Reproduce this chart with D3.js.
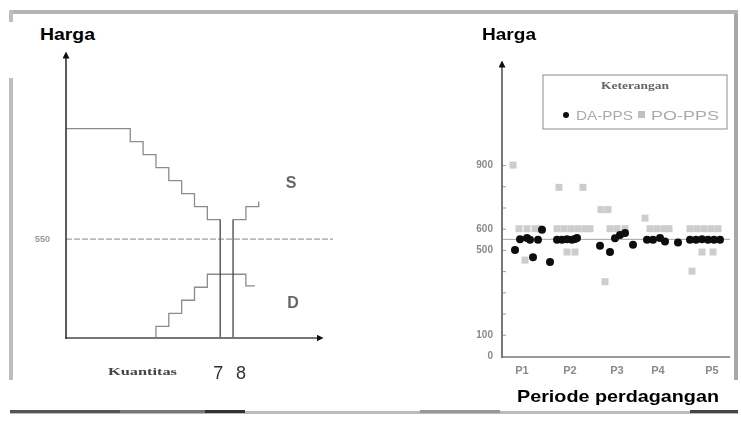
<!DOCTYPE html>
<html>
<head>
<meta charset="utf-8">
<script src="https://cdn.jsdelivr.net/npm/d3@7"></script>
<style>
  body { margin: 0; background: #fff; }
  svg { display: block; font-family: "Liberation Sans", Arial, sans-serif; }
</style>
</head>
<body>
<div id="chart"></div>
<script>
const width = 741;
const height = 421;

// left panel: schematic supply / demand steps (quantity, price)
const supplySteps = [[-5, 635], [0, 635], [0, 625], [1, 625], [1, 615], [2, 615], [2, 605], [3, 605],
  [3, 595], [4, 595], [4, 585], [5, 585], [5, 575], [6, 575], [6, 565], [7, 565]];
const supplyTail = [[8, 565], [9, 565], [9, 575], [10, 575], [10, 579]];
const demandSteps = [[2, 474], [2, 483], [3, 483], [3, 493], [4, 493], [4, 503], [5, 503], [5, 513],
  [6, 513], [6, 523], [9, 523], [9, 514], [9.7, 514]];
const tradedQty = [7, 8];
const refPrice = 550;

// right panel: prices per transaction, two treatments
const periods = ["P1", "P2", "P3", "P4", "P5"];
const periodCenters = [4, 13.6, 23, 31.2, 42];
const yTicks = [0, 100, 500, 600, 900];
const daPps = [
  [2.6, 500], [3.6, 550], [5, 556], [5.6, 548], [6.2, 466], [7.2, 548], [8, 595], [9.6, 443],
  [11, 548], [12, 548], [13, 550], [14, 548], [14.6, 552], [15, 556],
  [19.6, 520], [21.6, 490], [22.6, 555], [23.6, 570], [24.6, 580], [26.2, 525],
  [29, 548], [30.2, 548], [31.6, 556], [32.6, 540], [35.2, 535],
  [37.6, 548], [38.8, 548], [40, 550], [41.2, 548], [42.4, 548], [43.6, 548]
];
const poPps = [
  [2.2, 900], [3.4, 600], [5, 600], [6.6, 600], [7.6, 600], [4.6, 452],
  [11.4, 795], [16.2, 795], [11, 600], [12.4, 600], [13.8, 600], [15.2, 600], [16.6, 600], [17.6, 600],
  [13, 490], [14.6, 490],
  [19.8, 690], [21.2, 690], [20.6, 350], [21.6, 600], [23, 600], [24.6, 600],
  [28.6, 650], [29.6, 600], [31, 600], [32.4, 600], [33.4, 600],
  [37.6, 600], [39, 600], [40.4, 600], [41.8, 600], [43.2, 600], [40, 490], [42.2, 490], [38, 400]
];

const svg = d3.select("#chart")
  .append("svg")
  .attr("width", width)
  .attr("height", height);

const defs = svg.append("defs");
defs.append("filter").attr("id", "blur")
  .append("feGaussianBlur").attr("stdDeviation", 0.7);
defs.append("marker")
  .attr("id", "arrow")
  .attr("viewBox", "0 0 10 10")
  .attr("refX", 5).attr("refY", 5)
  .attr("markerWidth", 7).attr("markerHeight", 7)
  .attr("orient", "auto-start-reverse")
  .attr("markerUnits", "userSpaceOnUse")
  .append("path")
  .attr("d", "M0,0L10,5L0,10z")
  .attr("fill", "#111");

// scanned frame
const frame = svg.append("g").attr("filter", "url(#blur)");
frame.append("rect").attr("x", 10).attr("y", 10).attr("width", 728).attr("height", 4).attr("fill", "#b4b4b4");
frame.append("rect").attr("x", 9).attr("y", 78).attr("width", 4).attr("height", 302).attr("fill", "#bdbdbd");
frame.append("rect").attr("x", 9).attr("y", 10).attr("width", 4).attr("height", 12).attr("fill", "#bdbdbd");
frame.append("rect").attr("x", 734).attr("y", 14).attr("width", 4).attr("height", 366).attr("fill", "#a8a8a8");
frame.append("rect").attr("x", 10).attr("y", 411).attr("width", 728).attr("height", 3).attr("fill", "#bbb");
[[10, 190, "#555"], [120, 85, "#777"], [205, 40, "#333"], [420, 80, "#999"], [690, 48, "#444"]]
  .forEach(([x, w, c]) => frame.append("rect").attr("x", x).attr("y", 410).attr("width", w).attr("height", 3).attr("fill", c));

// ---------- left panel ----------
const xQ = d3.scaleLinear().domain([-5, 15]).range([66, 323]);
const yP = d3.scaleLinear().domain([474, 690]).range([338, 57]);
const stepLine = d3.line().x(d => xQ(d[0])).y(d => yP(d[1]));

const left = svg.append("g").attr("filter", "url(#blur)");

left.append("line")
  .attr("x1", xQ(-5)).attr("x2", 333)
  .attr("y1", yP(refPrice)).attr("y2", yP(refPrice))
  .attr("stroke", "#a0a0a0").attr("stroke-width", 1.2)
  .attr("stroke-dasharray", "6,2");

left.append("text")
  .attr("x", 50).attr("y", yP(refPrice) + 3)
  .attr("text-anchor", "end")
  .attr("font-size", 9).attr("font-weight", "bold").attr("fill", "#999")
  .text(refPrice);

[supplySteps, supplyTail, demandSteps].forEach(pts => {
  left.append("path")
    .attr("d", stepLine(pts))
    .attr("fill", "none")
    .attr("stroke", "#8c8c8c")
    .attr("stroke-width", 1.3);
});

tradedQty.forEach(q => {
  left.append("line")
    .attr("x1", xQ(q)).attr("x2", xQ(q))
    .attr("y1", yP(565)).attr("y2", yP(474))
    .attr("stroke", "#444").attr("stroke-width", 1.3);
});

left.append("text").attr("x", 291).attr("y", 188).attr("text-anchor", "middle")
  .attr("font-size", 16).attr("font-weight", "bold").attr("fill", "#666").text("S");
left.append("text").attr("x", 293).attr("y", 308).attr("text-anchor", "middle")
  .attr("font-size", 16).attr("font-weight", "bold").attr("fill", "#666").text("D");

left.append("text").attr("x", 108).attr("y", 375)
  .attr("font-family", "'Liberation Serif', serif")
  .attr("font-size", 11).attr("font-weight", "bold").attr("fill", "#444")
  .attr("textLength", 69).attr("lengthAdjust", "spacingAndGlyphs")
  .text("Kuantitas");

tradedQty.forEach(q => {
  left.append("text").attr("x", xQ(q) - 2 + (q - 7) * 10).attr("y", 379)
    .attr("text-anchor", "middle")
    .attr("font-size", 18).attr("fill", "#333")
    .text(q);
});

// axes of left panel
svg.append("line")
  .attr("x1", xQ(-5)).attr("y1", yP(474)).attr("x2", 320).attr("y2", yP(474))
  .attr("stroke", "#777").attr("stroke-width", 2.2)
  .attr("marker-end", "url(#arrow)");
svg.append("line")
  .attr("x1", xQ(-5)).attr("y1", yP(474) + 1).attr("x2", xQ(-5)).attr("y2", 55)
  .attr("stroke", "#333").attr("stroke-width", 1.6)
  .attr("marker-end", "url(#arrow)");

svg.append("text").attr("x", 40).attr("y", 40)
  .attr("font-size", 16).attr("font-weight", "bold").attr("fill", "#000")
  .attr("textLength", 55).attr("lengthAdjust", "spacingAndGlyphs")
  .text("Harga");

// ---------- right panel ----------
const xT = d3.scaleLinear().domain([0, 46]).range([502, 732]);
const yV = d3.scaleLinear().domain([0, 1400]).range([356, 59]);

const right = svg.append("g").attr("filter", "url(#blur)");

right.append("line")
  .attr("x1", xT(0)).attr("x2", 730)
  .attr("y1", yV(refPrice)).attr("y2", yV(refPrice))
  .attr("stroke", "#a0a0a0").attr("stroke-width", 1);

const yAxis = d3.axisRight(yV)
  .tickValues(d3.range(0, 1000, 100))
  .tickSize(4)
  .tickFormat("");
right.append("g")
  .attr("transform", `translate(${xT(0)},0)`)
  .call(yAxis)
  .call(g => g.select(".domain").remove())
  .selectAll("line").attr("stroke", "#999");

right.selectAll(".ylab")
  .data(yTicks)
  .join("text")
  .attr("class", "ylab")
  .attr("x", 493)
  .attr("y", d => yV(d) + 3)
  .attr("text-anchor", "end")
  .attr("font-size", 10).attr("font-weight", "bold").attr("fill", "#8a8a8a")
  .text(d => d);

right.selectAll(".plab")
  .data(periods)
  .join("text")
  .attr("class", "plab")
  .attr("x", (d, i) => xT(periodCenters[i]))
  .attr("y", 374)
  .attr("text-anchor", "middle")
  .attr("font-size", 11).attr("font-weight", "bold").attr("fill", "#8a8a8a")
  .text(d => d);

right.selectAll(".po")
  .data(poPps)
  .join("rect")
  .attr("class", "po")
  .attr("x", d => xT(d[0]) - 3.5)
  .attr("y", d => yV(d[1]) - 3.5)
  .attr("width", 7).attr("height", 7)
  .attr("fill", "#cdcdcd");

right.selectAll(".da")
  .data(daPps)
  .join("circle")
  .attr("class", "da")
  .attr("cx", d => xT(d[0]))
  .attr("cy", d => yV(d[1]))
  .attr("r", 4)
  .attr("fill", "#111");

// legend
const legend = right.append("g");
legend.append("rect").attr("x", 543).attr("y", 75).attr("width", 184).attr("height", 54)
  .attr("fill", "#fff").attr("stroke", "#8c8c8c").attr("stroke-width", 1);
legend.append("text").attr("x", 635).attr("y", 89).attr("text-anchor", "middle")
  .attr("font-family", "'Liberation Serif', serif")
  .attr("font-size", 10).attr("font-weight", "bold").attr("fill", "#666")
  .attr("textLength", 68).attr("lengthAdjust", "spacingAndGlyphs")
  .text("Keterangan");
legend.append("circle").attr("cx", 566).attr("cy", 115).attr("r", 3).attr("fill", "#111");
legend.append("text").attr("x", 576).attr("y", 120)
  .attr("font-size", 13).attr("fill", "#aaa")
  .attr("textLength", 57).attr("lengthAdjust", "spacingAndGlyphs")
  .text("DA-PPS");
legend.append("rect").attr("x", 638).attr("y", 111).attr("width", 7).attr("height", 7).attr("fill", "#c0c0c0");
legend.append("text").attr("x", 651).attr("y", 120)
  .attr("font-size", 13).attr("fill", "#aaa")
  .attr("textLength", 68).attr("lengthAdjust", "spacingAndGlyphs")
  .text("PO-PPS");

// axes of right panel
svg.append("line")
  .attr("x1", xT(0)).attr("y1", yV(0) + 1).attr("x2", 730).attr("y2", yV(0) + 1)
  .attr("stroke", "#999").attr("stroke-width", 2);
svg.append("line")
  .attr("x1", xT(0)).attr("y1", yV(0) + 2).attr("x2", xT(0)).attr("y2", 64)
  .attr("stroke", "#777").attr("stroke-width", 2)
  .attr("marker-end", "url(#arrow)");

svg.append("text").attr("x", 482).attr("y", 40)
  .attr("font-size", 16).attr("font-weight", "bold").attr("fill", "#000")
  .attr("textLength", 54).attr("lengthAdjust", "spacingAndGlyphs")
  .text("Harga");

svg.append("text").attr("x", 517).attr("y", 402)
  .attr("font-size", 17).attr("font-weight", "bold").attr("fill", "#000")
  .attr("textLength", 202).attr("lengthAdjust", "spacingAndGlyphs")
  .text("Periode perdagangan");
</script>
</body>
</html>
